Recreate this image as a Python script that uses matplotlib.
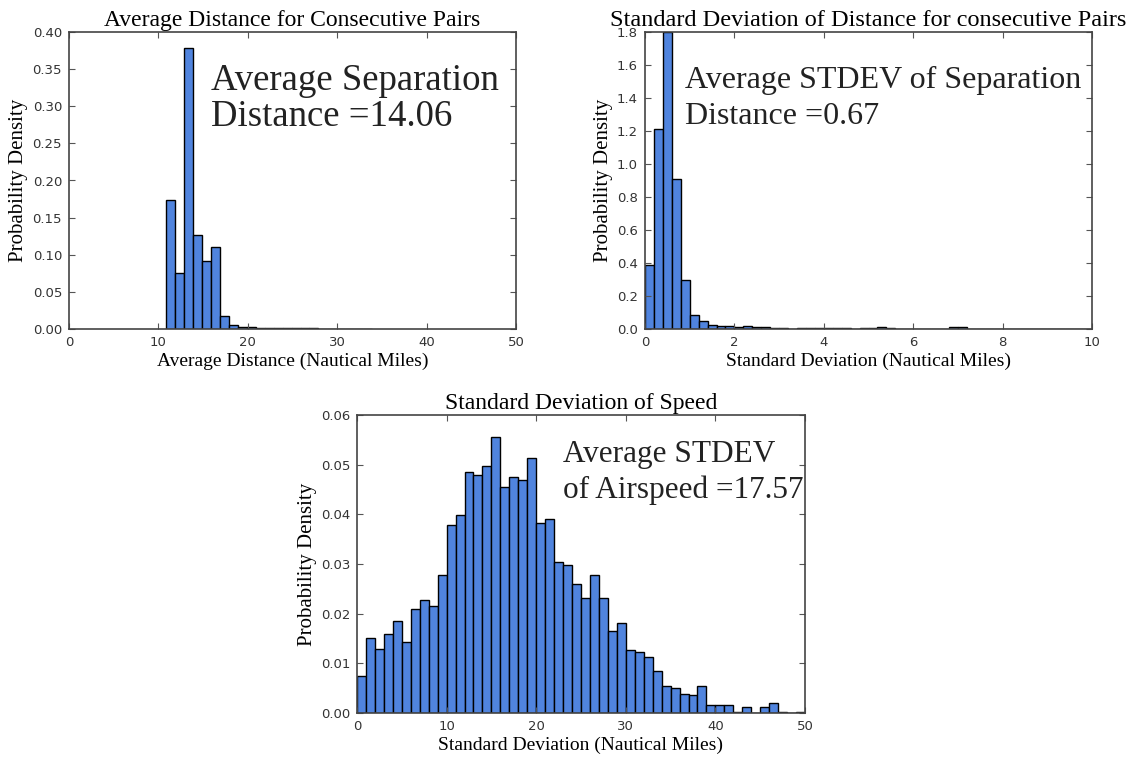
import numpy as np
import matplotlib
matplotlib.use("Agg")
import matplotlib.pyplot as plt
from matplotlib.ticker import FormatStrFormatter

# ---------------- data ----------------
# Panel 1: average separation distance (bins of width 1 starting at 10.9)
dist_bin_start = 10.9
dist_bin_width = 1.0
dist_heights = [0.174, 0.076, 0.378, 0.127, 0.092, 0.111, 0.017, 0.005,
                0.003, 0.003, 0.002, 0.002, 0.0015, 0.001, 0.001, 0.0015,
                0.001, 0.0005, 0.0005, 0.0003, 0.0002, 0.0002, 0.0001]

# Panel 2: stdev of separation distance (bins of width 0.2 starting at 0)
sdd_bin_start = 0.0
sdd_bin_width = 0.2
sdd_heights = [0.39, 1.21, 1.80, 0.91, 0.30, 0.085, 0.05, 0.025, 0.018, 0.018,
               0.014, 0.016, 0.013, 0.012, 0.008, 0.004, 0.003, 0.004, 0.006, 0.005,
               0.004, 0.005, 0.004, 0.003, 0.004, 0.005, 0.014, 0.004, 0.003, 0.002,
               0.003, 0.002, 0.002, 0.003, 0.012, 0.012, 0.003, 0.002, 0.002, 0.003,
               0.002, 0.003, 0.001, 0.002, 0.002, 0.001, 0.002, 0.001, 0.002, 0.002]

# Panel 3: stdev of speed (bins of width 1 starting at 0)
spd_bin_start = 0.0
spd_bin_width = 1.0
spd_heights = [0.0074, 0.0151, 0.0128, 0.0159, 0.0186, 0.0142, 0.0209, 0.0228, 0.0216, 0.0277,
               0.0378, 0.0398, 0.0486, 0.0480, 0.0498, 0.0555, 0.0455, 0.0476, 0.0469, 0.0513,
               0.0383, 0.0390, 0.0305, 0.0297, 0.0260, 0.0232, 0.0277, 0.0232, 0.0165, 0.0182,
               0.0126, 0.0123, 0.0112, 0.0084, 0.0055, 0.0050, 0.0038, 0.0036, 0.0055, 0.0016,
               0.0016, 0.0016, 0.0003, 0.0012, 0.0000, 0.0012, 0.0021, 0.0003, 0.0000, 0.0003]

titles = ["Average Distance for Consecutive Pairs",
          "Standard Deviation of Distance for consecutive Pairs",
          "Standard Deviation of Speed"]
xlabels = ["Average Distance (Nautical Miles)",
           "Standard Deviation (Nautical Miles)",
           "Standard Deviation (Nautical Miles)"]
ylabel = "Probability Density"
notes = [("Average Separation", "Distance =14.06"),
         ("Average STDEV of Separation", "Distance =0.67"),
         ("Average STDEV", "of Airspeed =17.57")]

# ---------------- style ----------------
BAR = "#5084de"
SERIF = ["Liberation Serif", "DejaVu Serif"]
plt.rcParams["font.family"] = ["DejaVu Sans"]

fig = plt.figure(figsize=(11.39, 7.59), dpi=100)
W, H = 1139.0, 759.0

def add_ax(l, r, t, b):
    return fig.add_axes([l / W, 1 - b / H, (r - l) / W, (b - t) / H])

ax1 = add_ax(69, 516, 32, 329)
ax2 = add_ax(645, 1092, 32, 329)
ax3 = add_ax(357, 805, 415, 713)

def draw(ax, start, width, heights, xlim, ylim, xstep, ystep, yfmt, title,
         xlabel, note, note_x, note_ys, note_size, title_size):
    n = len(heights)
    lefts = start + width * np.arange(n)
    ax.bar(lefts, heights, width=width, align="edge", color=BAR,
           edgecolor="black", linewidth=1.0)
    ax.set_xlim(*xlim)
    ax.set_ylim(*ylim)
    ax.set_xticks(np.arange(xlim[0], xlim[1] + xstep / 2, xstep))
    ax.set_yticks(np.arange(ylim[0], ylim[1] + ystep / 2, ystep))
    ax.yaxis.set_major_formatter(FormatStrFormatter(yfmt))
    ax.tick_params(direction="in", top=True, right=True, labelsize=9.5,
                   labelcolor="#333333", color="#555555", length=4, pad=5)
    for s in ax.spines.values():
        s.set_color("#444444")
        s.set_linewidth(1.2)
    ax.set_title(title, family=SERIF, fontsize=title_size, pad=4)
    ax.set_xlabel(xlabel, family=SERIF, fontsize=14, labelpad=3)
    ax.set_ylabel(ylabel, family=SERIF, fontsize=15, labelpad=3)
    for line, yy in zip(note, note_ys):
        ax.text(note_x, yy, line, transform=ax.transAxes,
                family=SERIF, fontsize=note_size, va="baseline", ha="left",
                color="#222222", clip_on=False)

draw(ax1, dist_bin_start, dist_bin_width, dist_heights, (0, 50), (0, 0.40),
     10, 0.05, "%.2f", titles[0], xlabels[0], notes[0],
     0.3177, (0.8047, 0.6835), 26.5, 17)
draw(ax2, sdd_bin_start, sdd_bin_width, sdd_heights, (0, 10), (0, 1.8),
     2, 0.2, "%.1f", titles[1], xlabels[1], notes[1],
     0.0895, (0.8114, 0.6902), 23, 17.5)
draw(ax3, spd_bin_start, spd_bin_width, spd_heights, (0, 50), (0, 0.06),
     10, 0.01, "%.2f", titles[2], xlabels[2], notes[2],
     0.46, (0.8423, 0.7215), 22.5, 17)

fig.savefig("out.png", dpi=100, facecolor="white")
